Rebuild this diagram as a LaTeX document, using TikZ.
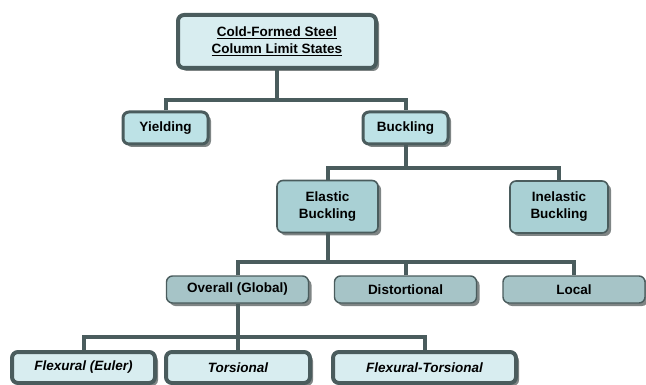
\documentclass[tikz,border=0pt]{standalone}
\usepackage{fontspec}
\setmainfont{Liberation Sans}
\usepackage{tikz}
\usetikzlibrary{positioning, calc, shadows}
\definecolor{frame}{HTML}{4A5C5D}
\definecolor{palecyan}{HTML}{D8EDF0}
\definecolor{midcyan}{HTML}{BDE2E6}
\definecolor{deepcyan}{HTML}{A9D0D4}
\definecolor{graycyan}{HTML}{A6C4C7}
\definecolor{shade}{HTML}{7F8585}
\tikzset{
    box/.style={rectangle, rounded corners=6pt, draw=frame, align=center, inner sep=1pt,
        font=\fontsize{13.5}{17}\selectfont\bfseries,
        drop shadow={shadow xshift=3pt, shadow yshift=-3pt, fill=shade, opacity=1}},
    root node/.style={box, fill=palecyan, line width=4pt, minimum width=198pt, minimum height=53pt},
    state node/.style={box, fill=midcyan, line width=3pt, minimum width=85pt, minimum height=32pt},
    buckle node/.style={box, fill=deepcyan, line width=1.6pt, minimum height=52pt},
    mode node/.style={box, fill=graycyan, line width=1.4pt, minimum width=142pt, minimum height=27pt},
    form node/.style={box, fill=palecyan, line width=4pt, minimum height=31pt, font=\fontsize{13.5}{17}\selectfont\bfseries\itshape},
    link/.style={draw=frame, line width=4pt},
}

\begin{document}
\begin{tikzpicture}[x=1pt, y=-1pt]
    \useasboundingbox (0,0) rectangle (646,385);

    \node[root node] (limit) at (277,41.5) {\underline{Cold-Formed Steel}\\\underline{Column Limit States}};

    \node[state node] (yield) at (165.5,128) {Yielding};
    \node[state node] (buck) at (405.5,128) {Buckling};

    \node[buckle node, minimum width=101pt] (elastic) at (327.5,206.5) {Elastic\\Buckling};
    \node[buckle node, minimum width=98pt] (inelastic) at (559,207) {Inelastic\\Buckling};

    \node[mode node] (overall) at (237.5,289.5) {Overall (Global)};
    \node[mode node] (distort) at (405.5,289.5) {Distortional};
    \node[mode node] (local) at (574,289.5) {Local};

    \node[form node, minimum width=143pt] (flex) at (83.5,367.5) {Flexural (Euler)};
    \node[form node, minimum width=144pt] (tors) at (238,367.5) {Torsional};
    \node[form node, minimum width=183pt] (flextors) at (424.5,367.5) {Flexural-Torsional};

    % branch points of the tree
    \coordinate (j1) at (limit.south |- 0,100);
    \coordinate (j2) at (buck.south |- 0,168);
    \coordinate (j3) at (elastic.south |- 0,262);
    \coordinate (j4) at (overall.south |- 0,337);

    \draw[link] (limit.south) -- (j1);
    \draw[link] (yield.north) |- (j1) -| (buck.north);
    \draw[link] (buck.south) -- (j2);
    \draw[link] (elastic.north) |- (j2) -| (inelastic.north);
    \draw[link] (elastic.south) -- (j3);
    \draw[link] (overall.north) |- (j3) -| (local.north);
    \draw[link] (distort.north) -- (distort.north |- j3);
    \draw[link] (overall.south) -- (j4);
    \draw[link] (flex.north) |- (j4) -| (flextors.north);
    \draw[link] (tors.north) -- (tors.north |- j4);
\end{tikzpicture}
\end{document}
